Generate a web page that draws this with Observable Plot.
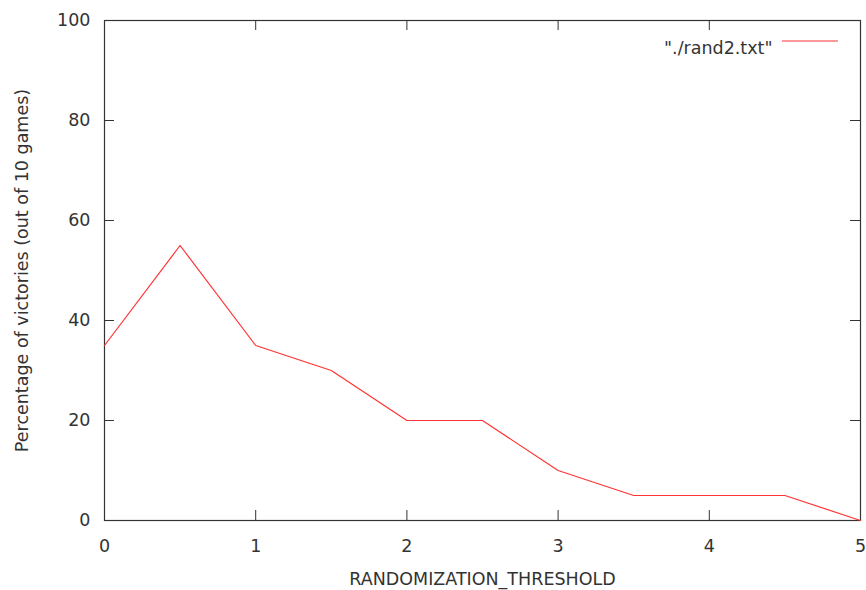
<!DOCTYPE html>
<html>
<head>
<meta charset="utf-8">
<script src="https://cdn.jsdelivr.net/npm/d3@7"></script>
<script src="https://cdn.jsdelivr.net/npm/@observablehq/plot@0.6"></script>
<style>
  html, body { margin: 0; padding: 0; background: #fff; }
  #chart svg { display: block; }
</style>
</head>
<body>
<div id="chart"></div>
<script>
const thresholds = [0, 0.5, 1, 1.5, 2, 2.5, 3, 3.5, 4, 4.5, 5];
const victories = [35, 55, 35, 30, 20, 20, 10, 5, 5, 5, 0];
const xTicks = [0, 1, 2, 3, 4, 5];
const yTicks = [0, 20, 40, 60, 80, 100];
const seriesLabel = "\"./rand2.txt\"";
const xLabel = "RANDOMIZATION_THRESHOLD";
const yLabel = "Percentage of victories (out of 10 games)";

const data = thresholds.map((t, i) => ({x: t, y: victories[i]}));
const axisColor = "#333";
const lineColor = "#ff3333";
const textColor = "#333";
const fs = 17.5;

const legendLine = (index, scales, values, dims) => {
  const x2 = dims.width - dims.marginRight - 22;
  const x1 = x2 - 56;
  const y = dims.marginTop + 21;
  return d3.create("svg:line")
    .attr("x1", x1).attr("x2", x2).attr("y1", y).attr("y2", y)
    .attr("stroke", lineColor).attr("stroke-width", 1.2).node();
};

const chart = Plot.plot({
  width: 866,
  height: 590,
  marginLeft: 104,
  marginRight: 6,
  marginTop: 20,
  marginBottom: 70,
  style: {fontFamily: "DejaVu Sans", fontSize: fs + "px", color: textColor},
  x: {domain: [0, 5]},
  y: {domain: [0, 100]},
  marks: [
    Plot.frame({stroke: axisColor, strokeWidth: 1.2}),
    Plot.ruleX(xTicks, {x: d => d, y1: 0, y2: 0, insetTop: -10, stroke: axisColor}),
    Plot.ruleX(xTicks, {x: d => d, y1: 100, y2: 100, insetBottom: -10, stroke: axisColor}),
    Plot.ruleY(yTicks, {y: d => d, x1: 0, x2: 0, insetRight: -10, stroke: axisColor}),
    Plot.ruleY(yTicks, {y: d => d, x1: 5, x2: 5, insetLeft: -10, stroke: axisColor}),
    Plot.axisX(xTicks, {anchor: "bottom", tickSize: 0, tickPadding: 19, tickFormat: d3.format("d"), label: null, fill: textColor, fontSize: fs}),
    Plot.axisY(yTicks, {anchor: "left", tickSize: 0, tickPadding: 14, tickFormat: d3.format("d"), label: null, fill: textColor, fontSize: fs}),
    Plot.text([xLabel], {frameAnchor: "bottom", dy: 64, text: d => d, textAnchor: "middle", fontSize: fs, fill: textColor}),
    Plot.text([yLabel], {frameAnchor: "left", dx: -82, rotate: -90, text: d => d, textAnchor: "middle", fontSize: fs, fill: textColor}),
    Plot.line(data, {x: "x", y: "y", stroke: lineColor, strokeWidth: 1.2}),
    Plot.text([seriesLabel], {frameAnchor: "top-right", dx: -88, dy: 21, text: d => d, textAnchor: "end", fontSize: fs, fill: textColor}),
    legendLine
  ]
});
document.getElementById("chart").appendChild(chart);
</script>
</body>
</html>
